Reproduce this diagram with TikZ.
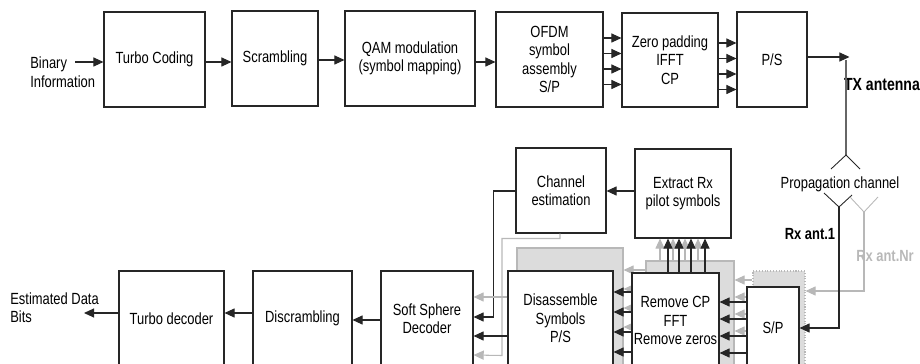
\documentclass[tikz,border=0pt]{standalone}
\usepackage{fontspec}
\setmainfont{Liberation Sans}[FakeStretch=0.8]
\usepackage{xcolor}
\usetikzlibrary{arrows.meta,positioning}
\definecolor{grisl}{HTML}{B8B8B8}
\definecolor{grisf}{HTML}{DCDCDC}
\definecolor{grisd}{HTML}{666666}
\tikzset{
  letra/.style={font=\fontsize{9.2}{10.5}\selectfont},
  bloque/.style={draw=black!85,fill=white,line width=0.6pt,align=center,inner sep=0pt,letra},
  sombra/.style={draw=grisl,fill=grisf,line width=0.6pt},
  flecha/.style={-{Triangle[length=5.8pt,width=5.2pt]},line width=0.6pt,black!85},
  flechagris/.style={-{Triangle[length=5.8pt,width=5.2pt]},line width=0.6pt,grisl},
  txt/.style={align=center,inner sep=0pt,letra},
  negrita/.style={txt,font=\fontsize{9.2}{10.5}\selectfont\bfseries}
}
\begin{document}
\begin{tikzpicture}[x=0.02cm,y=-0.02cm]
\clip (0,0) rectangle (920,364);
\node[bloque,minimum width=2.02cm,minimum height=1.9cm] (tc) at (154.5,59.5) {Turbo Coding};
\node[bloque,minimum width=1.72cm,minimum height=1.9cm] (scr) at (275,58.5) {Scrambling};
\node[bloque,minimum width=2.6cm,minimum height=1.9cm] (qam) at (410,58.5) {QAM modulation\\(symbol mapping)};
\node[bloque,minimum width=2.14cm,minimum height=1.9cm] (ofdm) at (549.5,59.5) {OFDM\\symbol\\assembly\\S/P};
\node[bloque,minimum width=1.92cm,minimum height=1.88cm] (zp) at (670,60) {Zero padding\\IFFT\\CP};
\node[bloque,minimum width=1.4cm,minimum height=1.9cm] (pst) at (772,59.5) {P/S};
\node[txt,align=left,anchor=north west] (bin) at (30,56.5) {Binary\\Information};
\coordinate (binout) at (75,62); \coordinate (txa) at (846,57); \coordinate (apex) at (846,155);
\draw[flecha] (binout) -- (binout -| tc.west);
\draw[flecha] (tc.east |- 0,62) -- (scr.west |- 0,62);
\draw[flecha] (scr.east |- 0,60) -- (qam.west |- 0,60);
\draw[flecha] (qam.east |- 0,62) -- (ofdm.west |- 0,62);
\foreach \y in {38,53.5,69,84.5}{\draw[flecha] (ofdm.east |- 0,\y) -- (zp.west |- 0,\y);}
\foreach \y in {43,58.5,74,89.5}{\draw[flecha] (zp.east |- 0,\y) -- (pst.west |- 0,\y);}
\draw[flecha] (pst.east |- txa) -- ([xshift=2]txa);
\node[negrita,font=\fontsize{10}{11}\selectfont\bfseries] (txlab) at (882,85) {TX antenna};
\draw[grisd,line width=0.6pt] (apex |- 0,60) -- (apex);
\draw[black!85,line width=0.5pt] (831,169) -- (apex) -- (860,169);
\node[txt] (prop) at (840,184) {Propagation channel};
\coordinate (rx1) at (839,207); \coordinate (rxn) at (864,212);
\draw[black!85,line width=0.5pt] (824,193) -- (rx1) -- (852,195);
\draw[grisl,line width=0.5pt] (850,197) -- (rxn) -- (878,197);
\node[negrita] (rxa) at (810,234) {Rx ant.1};
\node[negrita,text=grisl] (rxnr) at (885,256) {Rx ant.Nr};
\node[sombra,minimum width=2.12cm,minimum height=2.36cm] (diss) at (570,307) {};
\node[sombra,minimum width=1.76cm,minimum height=2.14cm] (rcps) at (690,314.5) {};
\node[sombra,densely dotted,minimum width=1.04cm,minimum height=1.94cm] (sps) at (779,319.5) {};
\node[bloque,minimum width=1.8cm,minimum height=1.7cm] (ce) at (561,190.5) {Channel\\estimation};
\node[bloque,minimum width=1.92cm,minimum height=1.78cm] (ext) at (683,193.5) {Extract Rx\\pilot symbols};
\foreach \x in {660,673,685,698}{\draw[flechagris] (rcps.north -| \x,0) -- (ext.south -| \x,0);}
\foreach \y in {270,289,308,327}{\draw[flechagris] (rcps.west |- 0,\y) -- (diss.east |- 0,\y);}
\foreach \y in {280,297,314,331}{\draw[flechagris] (sps.west |- 0,\y) -- (rcps.east |- 0,\y);}
\draw[flechagris] (rxn) |- (sps.east |- 0,291);
\node[bloque,minimum width=2.1cm,minimum height=1.9cm] (dis) at (560.5,318.5) {Disassemble\\Symbols\\P/S};
\node[bloque,minimum width=1.74cm,minimum height=1.9cm] (rcp) at (675.5,320.5) {Remove CP\\FFT\\Remove zeros};
\node[bloque,minimum width=1.04cm,minimum height=1.62cm] (sp) at (773,327.5) {S/P};
\node[bloque,minimum width=1.84cm,minimum height=1.9cm] (soft) at (427,318.5) {Soft Sphere\\Decoder};
\node[bloque,minimum width=1.98cm,minimum height=1.9cm] (discr) at (302.5,318.5) {Discrambling};
\node[bloque,minimum width=2.1cm,minimum height=1.9cm] (tdec) at (171.5,318.5) {Turbo decoder};
\node[txt,align=left,anchor=north west] (est) at (10,292) {Estimated Data\\Bits};
\coordinate (estin) at (84,313);
\foreach \x in {668,679,691,705}{\draw[flecha] (rcp.north -| \x,0) -- (ext.south -| \x,0);}
\foreach \y in {292,312,332,352}{\draw[flecha] (rcp.west |- 0,\y) -- (dis.east |- 0,\y);}
\foreach \y in {302,319,336,353}{\draw[flecha] (sp.west |- 0,\y) -- (rcp.east |- 0,\y);}
\draw[flecha] (rx1) |- (sp.east |- 0,328);
\draw[flecha] (ext.west |- 0,191) -- (ce.east |- 0,191);
\draw[flecha] (ce.west |- 0,191) -- ++(-22,0) |- (soft.east |- 0,317);
\draw[flechagris] (ce.south -| 560,0) -- ++(0,5) -| ++(-58,117) -- (soft.east |- 0,355);
\draw[flechagris] (dis.west |- 0,297) -- (soft.east |- 0,297);
\draw[flecha] (dis.west |- 0,336) -- (soft.east |- 0,336);
\draw[flecha] (soft.west |- 0,320) -- (discr.east |- 0,320);
\draw[flecha] (discr.west |- 0,313) -- (tdec.east |- 0,313);
\draw[flecha] (tdec.west |- estin) -- (estin);
\end{tikzpicture}
\end{document}
